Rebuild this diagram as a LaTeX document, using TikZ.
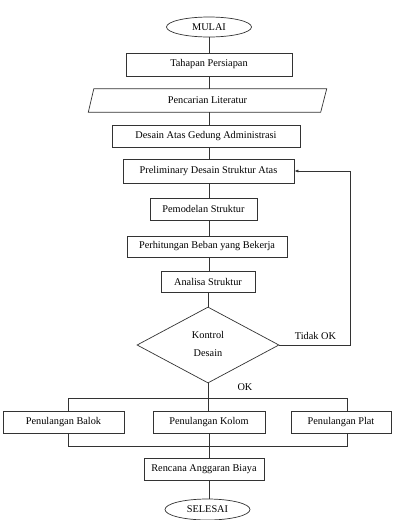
\documentclass[tikz,border=0pt]{standalone}
\usepackage{fontspec}
\setmainfont{Liberation Serif}
\usetikzlibrary{shapes.geometric,arrows.meta,calc}
\begin{document}
\begin{tikzpicture}[x=1pt,y=-1pt,
  every node/.style={font=\fontsize{10.3}{12}\selectfont, inner sep=0pt},
  box/.style={draw=black!80, line width=0.7pt, rectangle, fill=white},
  oval/.style={draw=black!80, line width=0.7pt, ellipse, fill=white},
  cond/.style={draw=black!80, line width=0.7pt, diamond, fill=white},
  plain/.style={rectangle},
  link/.style={draw=black!80, line width=0.7pt},
  arr/.style={link, -{Latex[length=4pt,width=3pt]}}
]
\useasboundingbox (0,0) rectangle (392,520);
\fill[white] (0,0) rectangle (392,520);

\coordinate (tx) at (209,0);
\coordinate (tk) at (208,0);
\node[oval, minimum width=85pt, minimum height=20pt] (mulai) at (209,27) {MULAI};
\node[box, minimum width=166pt, minimum height=23pt] (tahapan) at (209,64.5) {Tahapan Persiapan};
\node[plain, minimum width=238pt, minimum height=23pt] (lit) at (207.5,100.5) {};
\node[box, minimum width=188pt, minimum height=22pt] (desain) at (206,136) {Desain Atas Gedung Administrasi};
\node[box, minimum width=171pt, minimum height=24pt] (prelim) at (208.5,171) {Preliminary Desain Struktur Atas};
\node[box, minimum width=107pt, minimum height=22pt] (model) at (203.5,209) {Pemodelan Struktur};
\node[box, minimum width=160pt, minimum height=21pt] (beban) at (207,246.5) {Perhitungan Beban yang Bekerja};
\node[box, minimum width=94pt, minimum height=21pt] (analisa) at (208,281.5) {Analisa Struktur};
\node[cond, minimum width=142pt, minimum height=76pt] (kontrol) at (208,345) {};
\node[plain] (kt1) at (208,335) {Kontrol};
\node[plain] (kt2) at (208,353) {Desain};
\node[plain] (tidak) at (315.5,336) {Tidak OK};
\node[plain] (ok) at (245,387) {OK};
\node[box, minimum width=121pt, minimum height=22pt] (balok) at (63.5,422) {Penulangan Balok};
\node[box, minimum width=112pt, minimum height=22pt] (kolom) at (209,422) {Penulangan Kolom};
\node[box, minimum width=100pt, minimum height=22pt] (plat) at (341,422) {Penulangan Plat};
\node[box, minimum width=120pt, minimum height=22pt] (rab) at (204,469) {Rencana Anggaran Biaya};
\node[oval, minimum width=85pt, minimum height=21pt] (selesai) at (207.5,509.5) {SELESAI};

% parallelogram
\draw[link, fill=white] ($(lit.north west)+(5.5,0)$) -- (lit.north east) -- ($(lit.south east)+(-6,0)$) -- (lit.south west) -- cycle;
\node[plain] (littext) at (lit.center) {Pencarian Literatur};

% trunk connectors
\draw[link] (mulai.south) -- (mulai.south |- tahapan.north);
\draw[link] (tahapan.south -| tx) -- (tx |- lit.north);
\draw[link] (lit.south -| tx) -- (tx |- desain.north);
\draw[link] (desain.south -| tx) -- (tx |- prelim.north);
\draw[link] (prelim.south -| tx) -- (tx |- model.north);
\draw[link] (model.south -| tx) -- (tx |- beban.north);
\draw[link] (beban.south -| tx) -- (tx |- analisa.north);
\draw[link] (analisa.south -| tk) -- (kontrol.north);

% feedback
\coordinate (fbB) at (350,345);
\coordinate (fbT) at (350,171);
\draw[arr] (kontrol.east) -- (fbB) -- (fbT) -- (prelim.east);

% OK branch
\coordinate (bl) at (68,398);
\coordinate (br) at (347,398);
\draw[link] (kontrol.south) -- (kolom.north -| kontrol.south);
\draw[link] (bl |- balok.north) -- (bl) -- (br) -- (br |- plat.north);

% merge
\coordinate (ml) at (68,446);
\coordinate (mr) at (347,446);
\draw[link] (ml |- balok.south) -- (ml) -- (mr) -- (mr |- plat.south);
\draw[link] (kolom.south) -- (kolom.south |- rab.north);
\draw[link] (rab.south -| tx) -- (tx |- selesai.north);
\end{tikzpicture}
\end{document}
